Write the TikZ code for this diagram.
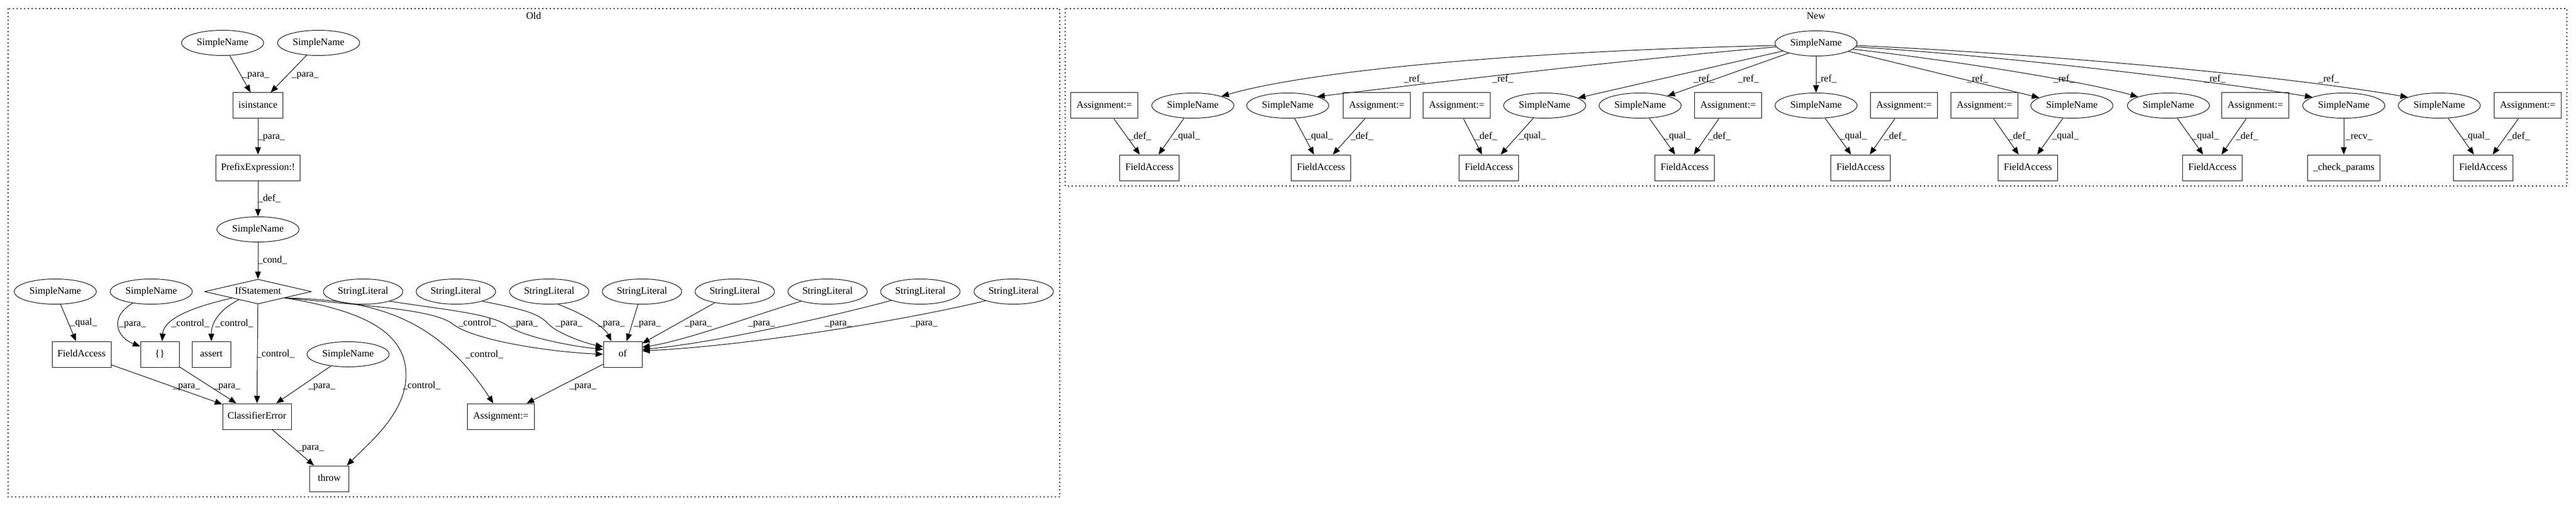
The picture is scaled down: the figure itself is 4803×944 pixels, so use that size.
\documentclass[tikz,border=0pt]{standalone}
\usepackage{fontspec}
\setmainfont{Liberation Serif}
\usetikzlibrary{shapes.geometric,arrows.meta}
\newcommand\lblfont{\fontsize{18.4}{22}\selectfont}
\begin{document}
\begin{tikzpicture}[x=1pt,y=1pt,
  every node/.style={font=\lblfont, text height=12.5pt, text depth=4pt},
  sn/.style={draw, ellipse, minimum width=153pt, minimum height=47pt, inner sep=0pt, line width=1pt},
  sl/.style={sn, minimum width=148pt},
  bx/.style={draw, rectangle, minimum height=48pt, inner sep=0pt, line width=1pt},
  dia/.style={draw, diamond, minimum width=199pt, minimum height=46pt, inner sep=0pt, aspect=4.3, line width=1pt},
  arr/.style={line width=1pt, -{Triangle[length=14pt,width=11pt]}},
  lb/.style={inner sep=0pt},
  ql/.style={midway, anchor=west, inner sep=0pt, xshift=3pt},
  clus/.style={line width=1.3pt, dash pattern=on 2pt off 5pt}]
\useasboundingbox (0,0) rectangle (4803,-944);

% clusters
\draw[clus] (15,-16) rectangle (1976,-927);
\draw[clus] (1986,-16) rectangle (4786,-347);
\node (oldlab) at (995,-31) {Old};
\node (newlab) at (3386,-31) {New};

% ---------- Old ----------
\node[sn] (snA) at (415,-80) {SimpleName};
\node[sn] (snB) at (594,-80) {SimpleName};
\node[bx, minimum width=93pt] (isin) at (481,-197) {isinstance};
\node[bx, minimum width=157pt] (prefix) at (481,-313) {PrefixExpression:!};
\node[sn] (snC) at (481,-428) {SimpleName};
\node[dia] (ifs) at (481,-544) {IfStatement};
\node[sn] (snD) at (103,-544) {SimpleName};
\node[sn] (snE) at (282,-544) {SimpleName};
\node[sl] (sl1) at (677,-544) {StringLiteral};
\node[sl] (sl2) at (850,-544) {StringLiteral};
\node[sl] (sl3) at (1024,-544) {StringLiteral};
\node[sl] (sl4) at (1197,-544) {StringLiteral};
\node[sl] (sl5) at (1370,-544) {StringLiteral};
\node[sl] (sl6) at (1543,-544) {StringLiteral};
\node[sl] (sl7) at (1716,-544) {StringLiteral};
\node[sl] (sl8) at (1890,-544) {StringLiteral};
\node[bx, minimum width=110pt] (fa0) at (152,-661) {FieldAccess};
\node[bx, minimum width=72pt] (brace) at (298,-661) {\{\}};
\node[bx, minimum width=72pt] (assert) at (394,-661) {assert};
\node[sn] (snF) at (649,-661) {SimpleName};
\node[bx, minimum width=72pt] (ofn) at (1161,-661) {of};
\node[bx, minimum width=128pt] (ce) at (479,-777) {ClassifierError};
\node[bx, minimum width=125pt] (asg0) at (934,-777) {Assignment:=};
\node[bx, minimum width=73pt] (throw) at (614,-893) {throw};

\draw[arr] (snA) -- (isin) node[lb, at={(477,-139)}] {\_para\_};
\draw[arr] (snB) -- (isin) node[lb, at={(569,-139)}] {\_para\_};
\draw[arr] (isin) -- (prefix) node[lb, at={(506,-255)}] {\_para\_};
\draw[arr] (prefix) -- (snC) node[lb, at={(502,-371)}] {\_def\_};
\draw[arr] (snC) -- (ifs) node[lb, at={(508,-486)}] {\_cond\_};
\draw[arr] (snD) -- (fa0) node[lb, at={(156,-602)}] {\_qual\_};
\draw[arr] (snE.-148) .. controls (205,-590) and (215,-628) .. (brace.158) node[lb, at={(247,-604)}] {\_para\_};
\draw[arr] (ifs.-166) .. controls (340,-577) and (305,-600) .. (brace.80) node[lb, at={(355,-604)}] {\_control\_};
\draw[arr] (ifs.-157) .. controls (405,-580) and (394,-605) .. (assert.north) node[lb, at={(437,-604)}] {\_control\_};
\draw[arr] (ifs) -- (ce) node[lb, at={(514,-661)}] {\_control\_};
\draw[arr] (ifs.south east) .. controls (680,-580) and (757,-620) .. (757,-700) .. controls (757,-770) and (690,-825) .. (throw.37) node[lb, at={(786,-720)}] {\_control\_};
\draw[arr] (ifs.south east) .. controls (690,-560) and (810,-585) .. (asg0.120) node[lb, at={(903,-662)}] {\_control\_};
\draw[arr] (ifs.south east) .. controls (700,-572) and (810,-578) .. (845,-605) .. controls (875,-630) and (1000,-655) .. (ofn.west) node[lb, at={(890,-603)}] {\_control\_};
\draw[arr] (sl1.-20) .. controls (830,-578) and (915,-585) .. (947,-608) .. controls (975,-628) and (1060,-645) .. (ofn.166) node[lb, at={(978,-603)}] {\_para\_};
\draw[arr] (sl2.-20) .. controls (980,-578) and (1005,-585) .. (1023,-605) .. controls (1040,-622) and (1090,-640) .. (ofn.159) node[lb, at={(1061,-603)}] {\_para\_};
\draw[arr] (sl3.-56) .. controls (1100,-590) and (1130,-615) .. (ofn.131) node[lb, at={(1140,-603)}] {\_para\_};
\draw[arr] (sl4) -- (ofn) node[lb, at={(1207,-603)}] {\_para\_};
\draw[arr] (sl5) -- (ofn) node[lb, at={(1302,-603)}] {\_para\_};
\draw[arr] (sl6.-160) .. controls (1400,-590) and (1280,-635) .. (ofn.20) node[lb, at={(1420,-603)}] {\_para\_};
\draw[arr] (sl7.-163) .. controls (1540,-593) and (1330,-640) .. (ofn.14) node[lb, at={(1563,-603)}] {\_para\_};
\draw[arr] (sl8.-162) .. controls (1700,-595) and (1400,-645) .. (ofn.10) node[lb, at={(1723,-603)}] {\_para\_};
\draw[arr] (fa0) -- (ce) node[lb, at={(348,-720)}] {\_para\_};
\draw[arr] (brace) -- (ce) node[lb, at={(423,-720)}] {\_para\_};
\draw[arr] (snF) -- (ce) node[lb, at={(600,-720)}] {\_para\_};
\draw[arr] (ce) -- (throw) node[lb, at={(579,-835)}] {\_para\_};
\draw[arr] (ofn) -- (asg0) node[lb, at={(1087,-720)}] {\_para\_};

% ---------- New ----------
\node[sn] (root) at (3386,-81) {SimpleName};
\foreach \n/\x in {a1/2059,a2/2567,a3/2716,a4/3222,a5/3550,a6/3700,a7/4205,a8/4713}
  \node[bx, minimum width=125pt] (\n) at (\x,-197) {Assignment:=};
\foreach \n/\x in {s1/2224,s2/2401,s3/2880,s4/3058,s5/3386,s6/3863,s7/4043,s8/4370,s9/4548}
  \node[sn] (\n) at (\x,-197) {SimpleName};
\foreach \n/\x in {f1/2143,f2/2463,f3/2776,f4/3141,f5/3469,f6/3781,f7/4125,f8/4630}
  \node[bx, minimum width=111pt] (\n) at (\x,-313) {FieldAccess};
\node[bx, minimum width=135pt] (cp) at (4370,-313) {\_check\_params};

\draw[arr] (root.183) .. controls (2850,-95) and (2450,-130) .. (s1.18) node[lb, at={(2637,-148)}] {\_ref\_};
\draw[arr] (root.185) .. controls (3050,-110) and (2750,-145) .. (s2.17) node[lb, at={(2802,-148)}] {\_ref\_};
\draw[arr] (root) -- (s3) node[lb, at={(3177,-148)}] {\_ref\_};
\draw[arr] (root) -- (s4) node[lb, at={(3260,-148)}] {\_ref\_};
\draw[arr] (root) -- (s5) node[lb, at={(3405,-148)}] {\_ref\_};
\draw[arr] (root) -- (s6) node[lb, at={(3687,-148)}] {\_ref\_};
\draw[arr] (root.-9) .. controls (3620,-110) and (3880,-150) .. (s7.164) node[lb, at={(3848,-148)}] {\_ref\_};
\draw[arr] (root.-5) .. controls (3750,-105) and (4150,-155) .. (s8.165) node[lb, at={(4130,-148)}] {\_ref\_};
\draw[arr] (root.-3) .. controls (3800,-100) and (4250,-140) .. (s9.165) node[lb, at={(4342,-148)}] {\_ref\_};

\draw[arr] (a1) -- (f1) node[ql] {\_def\_};
\draw[arr] (s1) -- (f1) node[ql] {\_qual\_};
\draw[arr] (s2) -- (f2) node[ql] {\_qual\_};
\draw[arr] (a2) -- (f2) node[ql] {\_def\_};
\draw[arr] (a3) -- (f3) node[ql] {\_def\_};
\draw[arr] (s3) -- (f3) node[ql] {\_qual\_};
\draw[arr] (s4) -- (f4) node[ql] {\_qual\_};
\draw[arr] (a4) -- (f4) node[ql] {\_def\_};
\draw[arr] (s5) -- (f5) node[ql] {\_qual\_};
\draw[arr] (a5) -- (f5) node[ql] {\_def\_};
\draw[arr] (a6) -- (f6) node[ql] {\_def\_};
\draw[arr] (s6) -- (f6) node[ql] {\_qual\_};
\draw[arr] (s7) -- (f7) node[ql] {\_qual\_};
\draw[arr] (a7) -- (f7) node[ql] {\_def\_};
\draw[arr] (s8) -- (cp) node[ql] {\_recv\_};
\draw[arr] (s9) -- (f8) node[ql] {\_qual\_};
\draw[arr] (a8) -- (f8) node[ql] {\_def\_};
\end{tikzpicture}
\end{document}
